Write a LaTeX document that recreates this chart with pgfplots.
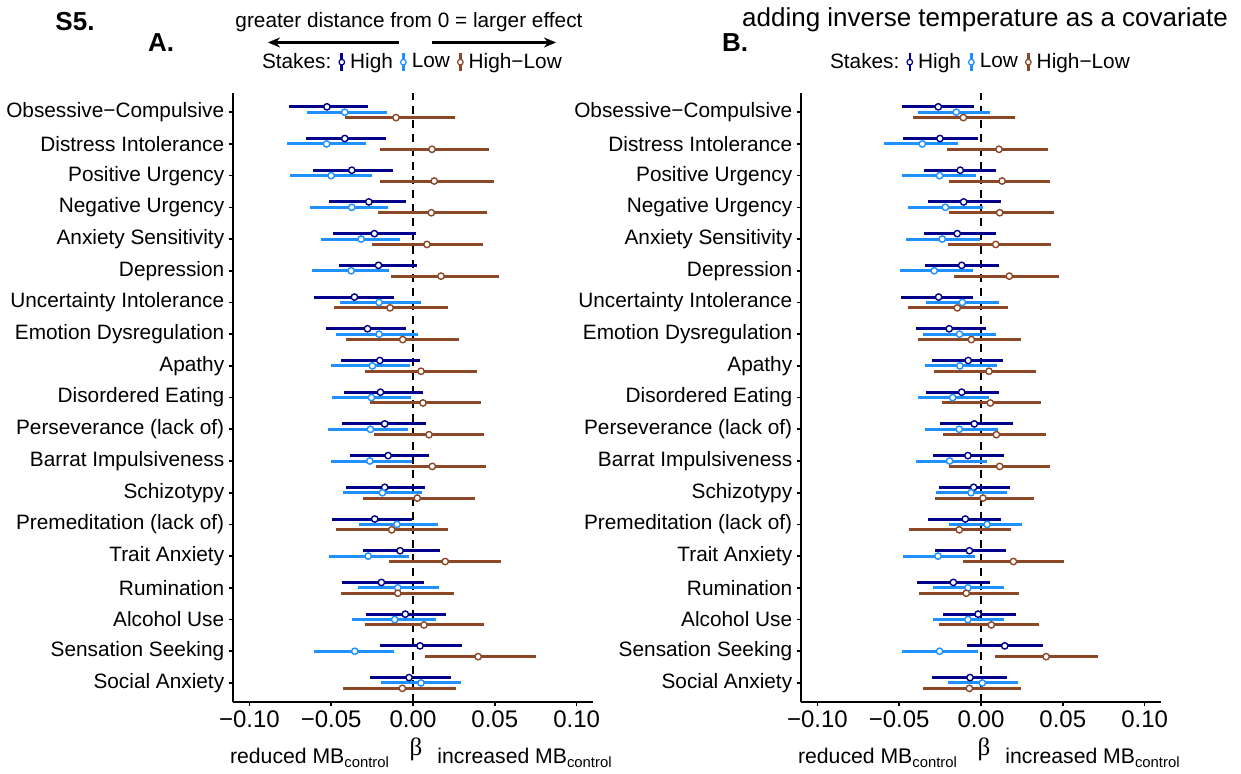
\documentclass[border=0pt]{standalone}
\usepackage{fontspec}
\setmainfont{Liberation Sans}
\newfontfamily\serifgreek{Liberation Serif}
\usepackage{pgfplots}
\usepackage{pgfplotstable}
\pgfplotsset{compat=1.18}
\usetikzlibrary{arrows.meta}

\definecolor{hicol}{HTML}{00008B}
\definecolor{locol}{HTML}{1E90FF}
\definecolor{dfcol}{HTML}{8B4726}

% pos: 19 = Obsessive-Compulsive ... 1 = Social Anxiety
% h = High, l = Low, d = High-Low (lo, estimate, hi)
\pgfplotstableread{
pos hlo h hhi llo l lhi dlo d dhi
19 -0.0756 -0.0526 -0.0274 -0.0648 -0.0417 -0.0159 -0.0417 -0.0104 0.0258
18 -0.0654 -0.0417 -0.0165 -0.0770 -0.0528 -0.0287 -0.0199 0.0116 0.0467
17 -0.0612 -0.0374 -0.0122 -0.0752 -0.0500 -0.0250 -0.0203 0.0130 0.0494
16 -0.0514 -0.0270 -0.0043 -0.0628 -0.0374 -0.0150 -0.0213 0.0112 0.0455
15 -0.0486 -0.0236 0.0016 -0.0561 -0.0317 -0.0079 -0.0250 0.0085 0.0429
14 -0.0453 -0.0211 0.0024 -0.0616 -0.0378 -0.0144 -0.0136 0.0171 0.0528
13 -0.0606 -0.0358 -0.0118 -0.0447 -0.0207 0.0049 -0.0480 -0.0140 0.0211
12 -0.0533 -0.0278 -0.0041 -0.0472 -0.0207 0.0030 -0.0407 -0.0063 0.0283
11 -0.0439 -0.0203 0.0043 -0.0502 -0.0248 -0.0020 -0.0291 0.0049 0.0392
10 -0.0423 -0.0199 0.0063 -0.0494 -0.0254 -0.0014 -0.0264 0.0061 0.0415
9 -0.0435 -0.0173 0.0079 -0.0518 -0.0260 -0.0033 -0.0240 0.0098 0.0435
8 -0.0386 -0.0152 0.0098 -0.0502 -0.0264 -0.0006 -0.0228 0.0118 0.0449
7 -0.0407 -0.0173 0.0071 -0.0429 -0.0187 0.0057 -0.0307 0.0026 0.0378
6 -0.0494 -0.0234 -0.0006 -0.0331 -0.0098 0.0150 -0.0470 -0.0130 0.0215
5 -0.0307 -0.0079 0.0165 -0.0516 -0.0274 -0.0022 -0.0146 0.0197 0.0539
4 -0.0433 -0.0193 0.0065 -0.0337 -0.0093 0.0159 -0.0441 -0.0093 0.0250
3 -0.0289 -0.0047 0.0201 -0.0372 -0.0112 0.0140 -0.0295 0.0067 0.0431
2 -0.0201 0.0043 0.0301 -0.0606 -0.0356 -0.0118 0.0073 0.0398 0.0754
1 -0.0262 -0.0024 0.0230 -0.0195 0.0049 0.0295 -0.0429 -0.0065 0.0262
}\tabA

\pgfplotstableread{
pos hlo h hhi llo l lhi dlo d dhi
19 -0.0484 -0.0261 -0.0043 -0.0384 -0.0151 0.0055 -0.0418 -0.0108 0.0208
18 -0.0478 -0.0251 -0.0018 -0.0590 -0.0359 -0.0141 -0.0208 0.0110 0.0410
17 -0.0351 -0.0127 0.0092 -0.0480 -0.0253 -0.0031 -0.0198 0.0129 0.0424
16 -0.0327 -0.0106 0.0122 -0.0447 -0.0218 0.0010 -0.0194 0.0114 0.0447
15 -0.0351 -0.0145 0.0094 -0.0461 -0.0237 -0.0006 -0.0200 0.0090 0.0429
14 -0.0343 -0.0118 0.0108 -0.0496 -0.0286 -0.0051 -0.0167 0.0173 0.0476
13 -0.0492 -0.0259 -0.0049 -0.0335 -0.0114 0.0108 -0.0447 -0.0145 0.0165
12 -0.0398 -0.0194 0.0033 -0.0357 -0.0131 0.0092 -0.0386 -0.0059 0.0245
11 -0.0302 -0.0078 0.0135 -0.0341 -0.0129 0.0098 -0.0288 0.0049 0.0337
10 -0.0337 -0.0118 0.0110 -0.0388 -0.0173 0.0047 -0.0239 0.0057 0.0367
9 -0.0253 -0.0041 0.0198 -0.0345 -0.0133 0.0106 -0.0231 0.0094 0.0398
8 -0.0294 -0.0080 0.0141 -0.0400 -0.0192 0.0039 -0.0194 0.0114 0.0424
7 -0.0259 -0.0045 0.0178 -0.0273 -0.0061 0.0159 -0.0284 0.0012 0.0324
6 -0.0324 -0.0096 0.0122 -0.0198 0.0037 0.0253 -0.0443 -0.0133 0.0186
5 -0.0280 -0.0071 0.0155 -0.0476 -0.0263 -0.0035 -0.0112 0.0198 0.0506
4 -0.0394 -0.0169 0.0055 -0.0296 -0.0080 0.0143 -0.0382 -0.0090 0.0231
3 -0.0231 -0.0018 0.0214 -0.0296 -0.0080 0.0143 -0.0255 0.0063 0.0355
2 -0.0088 0.0145 0.0380 -0.0480 -0.0253 -0.0018 0.0084 0.0398 0.0716
1 -0.0298 -0.0067 0.0161 -0.0202 0.0008 0.0227 -0.0357 -0.0071 0.0245
}\tabB

\pgfplotsset{
  forest/.style={
    scale only axis, width=180pt, height=304.4pt,
    xmin=-0.11, xmax=0.11, ymin=0.4, ymax=19.6,
    axis x line*=bottom, axis y line*=left,
    axis line style={line width=0.8pt, -},
    tick align=outside, major tick length=2.2pt,
    every tick/.style={line width=0.8pt, black},
    xtick={-0.1,-0.05,0,0.05,0.1},
    xticklabels={−0.10,−0.05,0.00,0.05,0.10},
    ytick={1,...,19},
    yticklabels={Social Anxiety,Sensation Seeking,Alcohol Use,Rumination,Trait Anxiety,Premeditation (lack of),Schizotypy,Barrat Impulsiveness,Perseverance (lack of),Disordered Eating,Apathy,Emotion Dysregulation,Uncertainty Intolerance,Depression,Anxiety Sensitivity,Negative Urgency,Positive Urgency,Distress Intolerance,Obsessive−Compulsive},
    xticklabel style={font=\fontsize{12}{14}\selectfont, inner sep=2pt},
    yticklabel style={font=\fontsize{10.4}{12}\selectfont, inner sep=2pt},
    clip=false,
    legend columns=-1,
    legend style={draw=none, fill=none, at={(0.497,1.051)}, anchor=center,
      font=\fontsize{10.4}{12}\selectfont, inner sep=0pt,
      nodes={inner xsep=2.5pt, inner ysep=0pt},
      /tikz/every even column/.append style={column sep=1pt}},
  },
  key/.style={legend image code/.code={
    \draw[#1, line width=1.3pt] (0pt,-4.5pt) -- (0pt,4.5pt);
    \draw[#1, fill=white, line width=0.6pt] (0pt,0pt) circle (1.4pt);}},
  ser/.style={key=#1, only marks, mark=*, mark size=1.6pt,
    mark options={draw=#1, fill=white, line width=0.7pt},
    error bars/.cd, x dir=both, x explicit, error mark=none,
    error bar style={#1, line width=1.5pt}},
  zeroline/.style={black, line width=1pt, dash pattern=on 4pt off 3pt, forget plot},
}

\begin{document}
\begin{tikzpicture}
\path[use as bounding box] (0,0) rectangle (620.5pt,387pt);

\begin{axis}[forest, at={(116.5pt,36pt)}, anchor=south west]
  \addplot[zeroline] coordinates {(0,0.4) (0,19.6)};
  \addlegendimage{empty legend}\addlegendentry{Stakes:}
  \addplot[ser=hicol] table[x=h, y expr=\thisrow{pos}+0.17,
    x error plus expr=\thisrow{hhi}-\thisrow{h}, x error minus expr=\thisrow{h}-\thisrow{hlo}]{\tabA};
  \addlegendentry{High}
  \addplot[ser=locol] table[x=l, y expr=\thisrow{pos},
    x error plus expr=\thisrow{lhi}-\thisrow{l}, x error minus expr=\thisrow{l}-\thisrow{llo}]{\tabA};
  \addlegendentry{Low}
  \addplot[ser=dfcol] table[x=d, y expr=\thisrow{pos}-0.17,
    x error plus expr=\thisrow{dhi}-\thisrow{d}, x error minus expr=\thisrow{d}-\thisrow{dlo}]{\tabA};
  \addlegendentry{High−Low}
\end{axis}

\begin{axis}[forest, at={(400.5pt,36pt)}, anchor=south west]
  \addplot[zeroline] coordinates {(0,0.4) (0,19.6)};
  \addlegendimage{empty legend}\addlegendentry{Stakes:}
  \addplot[ser=hicol] table[x=h, y expr=\thisrow{pos}+0.17,
    x error plus expr=\thisrow{hhi}-\thisrow{h}, x error minus expr=\thisrow{h}-\thisrow{hlo}]{\tabB};
  \addlegendentry{High}
  \addplot[ser=locol] table[x=l, y expr=\thisrow{pos},
    x error plus expr=\thisrow{lhi}-\thisrow{l}, x error minus expr=\thisrow{l}-\thisrow{llo}]{\tabB};
  \addlegendentry{Low}
  \addplot[ser=dfcol] table[x=d, y expr=\thisrow{pos}-0.17,
    x error plus expr=\thisrow{dhi}-\thisrow{d}, x error minus expr=\thisrow{d}-\thisrow{dlo}]{\tabB};
  \addlegendentry{High−Low}
\end{axis}

% annotations, in pixel coordinates of the reference (origin top left)
\begin{scope}[x=0.5pt, y=-0.5pt, shift={(0,387pt)}]
  \node[font=\fontsize{13}{15}\selectfont\bfseries] at (75,22) {S5.};
  \node[font=\fontsize{13}{15}\selectfont\bfseries] at (161,43) {A.};
  \node[font=\fontsize{13}{15}\selectfont\bfseries] at (735,43) {B.};
  \node[font=\fontsize{10.4}{12}\selectfont] at (409,22) {greater distance from 0 = larger effect};
  \node[font=\fontsize{13}{15}\selectfont] at (985,20) {adding inverse temperature as a covariate};
  \draw[line width=1.5pt, -{Stealth[length=6pt, width=5pt]}] (399,42.5) -- (268,42.5);
  \draw[line width=1.5pt, -{Stealth[length=6pt, width=5pt]}] (432,42.5) -- (556,42.5);
  \foreach \dx in {0,568} {
    \node[font=\fontsize{12.5}{14}\selectfont\serifgreek] at (416+\dx,749) {β};
    \node[font=\fontsize{10.6}{12}\selectfont] at (310+\dx,758) {reduced MB\textsubscript{control}};
    \node[font=\fontsize{10.6}{12}\selectfont] at (525+\dx,758) {increased MB\textsubscript{control}};
  }
\end{scope}
\end{tikzpicture}
\end{document}
